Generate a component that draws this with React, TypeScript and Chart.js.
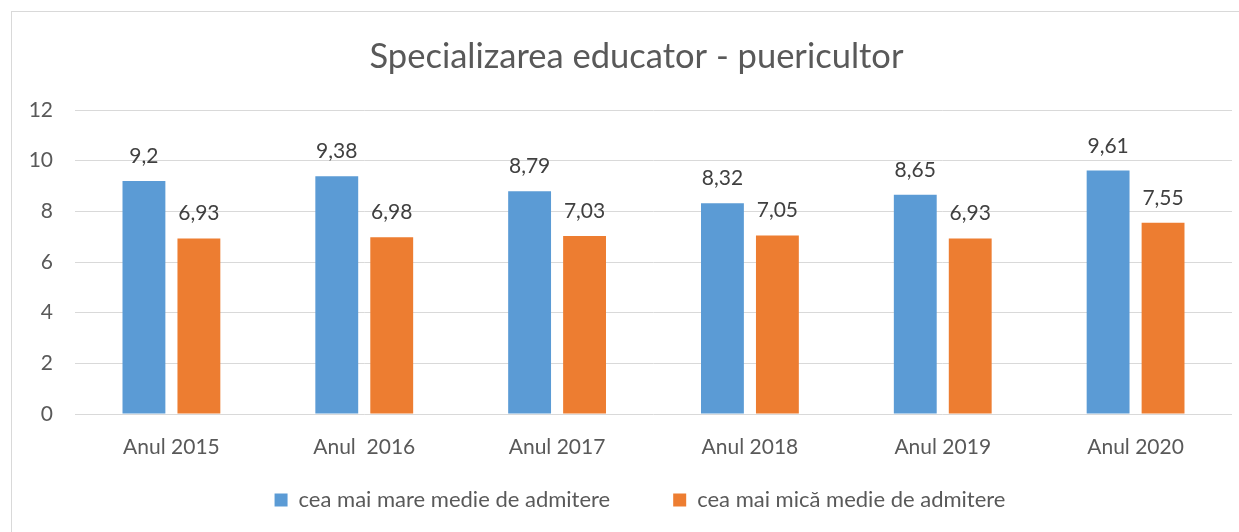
import React, { useEffect, useRef } from "react";
import { Chart, registerables } from "chart.js";

Chart.register(...registerables);

const categories = ["Anul 2015", "Anul  2016", "Anul 2017", "Anul 2018", "Anul 2019", "Anul 2020"];
const seriesNames = ["cea mai mare medie de admitere", "cea mai mică medie de admitere"];
const highest = [9.2, 9.38, 8.79, 8.32, 8.65, 9.61];
const lowest = [6.93, 6.98, 7.03, 7.05, 6.93, 7.55];
const yTicks = [0, 2, 4, 6, 8, 10, 12];
const titleText = "Specializarea educator - puericultor";

const FONT = "Lato";
const LEGEND_FONT = 22;
const LEGEND_PAD = 63;

const borderPlugin = {
  id: "outerBorder",
  beforeDraw(chart: any) {
    const ctx = chart.ctx;
    ctx.save();
    ctx.fillStyle = "#ffffff";
    ctx.fillRect(0, 0, chart.width, chart.height);
    ctx.strokeStyle = "#d9d9d9";
    ctx.lineWidth = 1;
    ctx.strokeRect(11.5, 11.5, chart.width + 20, chart.height + 20);
    ctx.restore();
  },
};

// Fine placement of the title and legend blocks after Chart.js has laid them out.
const placeBlocks = {
  id: "placeBlocks",
  afterLayout(chart: any) {
    const t = chart.titleBlock;
    if (t) {
      const dx = 636.5 - (t.left + t.right) / 2;
      t.left += dx;
      t.right += dx;
    }
    const lg = chart.legend;
    if (lg) {
      const dx = 640 - (lg.left + lg.right) / 2;
      lg.left += dx;
      lg.right += dx;
      lg.top = 500 - LEGEND_PAD - LEGEND_FONT / 2;
      lg.height = lg.bottom - lg.top;
      if (lg.adjustHitBoxes) lg.adjustHitBoxes();
    }
  },
};

const valueLabels = {
  id: "valueLabels",
  afterDatasetsDraw(chart: any) {
    const ctx = chart.ctx;
    ctx.save();
    ctx.font = `21px ${FONT}`;
    ctx.fillStyle = "#404040";
    ctx.textAlign = "center";
    ctx.textBaseline = "alphabetic";
    chart.data.datasets.forEach((ds: any, di: number) => {
      const meta = chart.getDatasetMeta(di);
      meta.data.forEach((bar: any, i: number) => {
        const v = ds.data[i];
        const txt = String(v).replace(".", ",");
        ctx.fillText(txt, bar.x, bar.y - 18);
      });
    });
    ctx.restore();
  },
};

export default function App() {
  const ref = useRef<HTMLCanvasElement>(null);
  useEffect(() => {
    if (!ref.current) return;
    const chart = new Chart(ref.current, {
      type: "bar",
      data: {
        labels: categories,
        datasets: [
          { label: seriesNames[0], data: highest, backgroundColor: "#5B9BD5" },
          { label: seriesNames[1], data: lowest, backgroundColor: "#ED7D31" },
        ],
      },
      options: {
        responsive: false,
        animation: false,
        devicePixelRatio: 1,
        categoryPercentage: 0.57,
        barPercentage: 0.78,
        layout: { padding: { left: 24, right: 7, top: 0, bottom: 11 } },
        plugins: {
          tooltip: { enabled: false },
          title: {
            display: true,
            text: titleText,
            color: "#595959",
            font: { family: FONT, size: 34.5, weight: "normal" },
            padding: { top: 36.5, bottom: 32.1 },
          },
          legend: {
            display: true,
            position: "bottom",
            maxHeight: 60,
            labels: {
              color: "#595959",
              font: { family: FONT, size: LEGEND_FONT },
              boxWidth: 13,
              boxHeight: 13,
              padding: LEGEND_PAD,
            },
          },
        },
        scales: {
          x: {
            grid: { display: false, drawTicks: false },
            border: { display: false },
            ticks: { color: "#595959", font: { family: FONT, size: 21 }, padding: 21, maxRotation: 0 },
            afterFit: (s: any) => { s.height = 47; },
          },
          y: {
            min: 0,
            max: 12,
            grid: { color: "#d9d9d9", drawTicks: false },
            border: { display: false },
            ticks: {
              stepSize: 2,
              color: "#595959",
              font: { family: FONT, size: 21 },
              padding: 22,
            },
            afterBuildTicks: (s: any) => { s.ticks = yTicks.map((v) => ({ value: v })); },
            afterFit: (s: any) => { s.width = 51; },
          },
        },
      },
      plugins: [borderPlugin, placeBlocks, valueLabels],
    });
    return () => chart.destroy();
  }, []);
  return (
    <div style={{ position: "absolute", left: 0, top: 0, width: 1239, height: 532 }}>
      <canvas ref={ref} width={1239} height={532} />
    </div>
  );
}
